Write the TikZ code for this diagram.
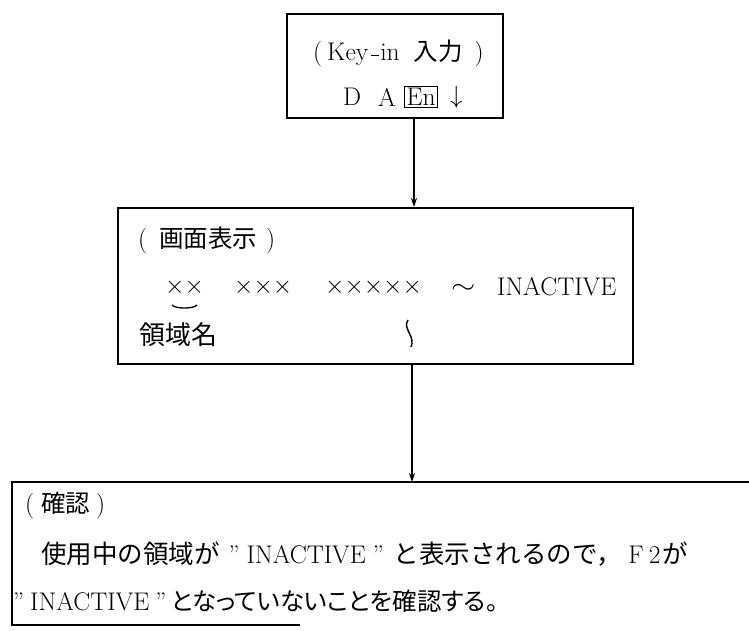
\documentclass[tikz,border=0pt]{standalone}
\usepackage{fontspec}
\usetikzlibrary{arrows.meta}
\newfontfamily\jp[Scale=0.96]{Noto Sans CJK JP}
\newfontfamily\jpb[Scale=1.0]{Noto Sans CJK JP}
\newfontfamily\jpp[Scale=0.96,RawFeature=+palt]{Noto Sans CJK JP}
\begin{document}
\begin{tikzpicture}[x=1pt,y=-1pt,
  box/.style={draw,line width=1.5pt},
  arr/.style={-{Stealth[length=9pt,width=6pt]},line width=1.4pt},
  txt/.style={anchor=west,inner sep=0pt,font=\fontsize{25.5}{30}\selectfont},
  xx/.style={txt,font=\fontsize{24}{30}\selectfont}]
\useasboundingbox (0,0) rectangle (749,630);
% top box
\node[box,minimum width=216pt,minimum height=104pt,anchor=north west,inner sep=0pt] (top) at (286,13) {};
\node[txt] (t1) at (313,53) {(\hspace{5pt}Key\hspace{3pt}\raisebox{4pt}{\rule{8pt}{1.2pt}}\hspace{1pt}in\hspace{14pt}{\jp 入力}\hspace{12pt})};
\node[txt] (tD) at (343,97) {D};
\node[txt] (tA) at (378,97) {A};
\node[txt] (tE) at (404,97) {{\setlength{\fboxsep}{1.5pt}\setlength{\fboxrule}{1pt}\fbox{En}}};
\node[txt] (tAr) at (450,97) {$\downarrow$};
% middle box
\node[box,minimum width=515pt,minimum height=156pt,anchor=north west,inner sep=0pt] (mid) at (117,207) {};
\node[txt] (m1) at (138,240) {(\hspace{12pt}{\jp 画面表示}\hspace{9pt})};
\node[xx] (x2) at (165,287) {$\mathord{\times}\mathord{\times}$};
\node[xx] (x3) at (234,287) {$\mathord{\times}\mathord{\times}\mathord{\times}$};
\node[xx] (x5) at (325,287) {$\mathord{\times}\mathord{\times}\mathord{\times}\mathord{\times}\mathord{\times}$};
\node[txt] (tl) at (451,289) {\scalebox{1.25}[1]{$\sim$}};
\node[txt] (m2) at (497,287) {INACTIVE};
\node[txt,font=\fontsize{27}{30}\selectfont] (m3) at (139,335) {{\jp 領域名}};
\coordinate (ubL) at (172,305);
\coordinate (ubR) at (197,305);
\draw[line width=1.3pt] (ubL) .. controls (175,309) and (194,309) .. (ubR);
\coordinate (sqT) at (408,320);
\coordinate (sqB) at (411,347);
\draw[line width=1.4pt] (sqT) .. controls (402,328) and (416,337) .. (sqB);
% bottom box (open)
\coordinate (bTL) at (12,482);
\coordinate (bTR) at (749,482);
\coordinate (bBL) at (12,625);
\coordinate (bBR) at (300,625);
\draw[line width=1.5pt] (bTR) -- (bTL) -- (bBL) -- (bBR);
\node[txt] (b1) at (25,505) {(\hspace{7pt}{\jp 確認}\hspace{6pt})};
\node[txt] (b2) at (41,554) {{\jpb 使用中の領域が}\hspace{9pt}"\hspace{7pt}INACTIVE\hspace{7pt}"\hspace{10pt}{\jpb と表示されるので，}\hspace{6pt}F\hspace{5pt}2\hspace{2pt}{\jpb が}};
\node[txt] (b3) at (13,601) {"\hspace{6pt}INACTIVE\hspace{6pt}"\hspace{5pt}{\jpp となっていないことを確認する。}};
% connectors
\coordinate (a1s) at (414,117);
\coordinate (a1e) at (414,207);
\coordinate (a2s) at (412,363);
\coordinate (a2e) at (412,482);
\draw[arr] (a1s) -- (a1e);
\draw[arr] (a2s) -- (a2e);
\end{tikzpicture}
\end{document}
